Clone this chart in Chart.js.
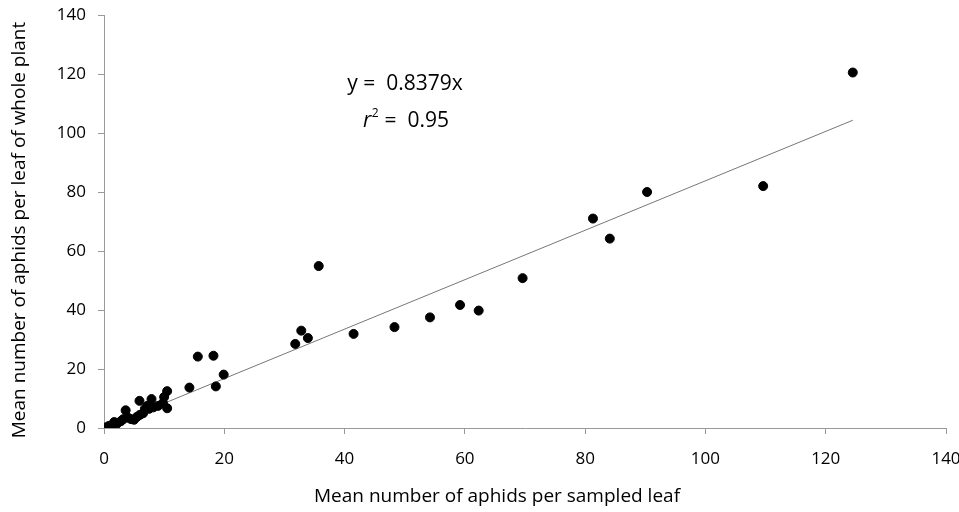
<!DOCTYPE html>
<html>
<head>
<meta charset="utf-8">
<script src="https://cdn.jsdelivr.net/npm/chart.js@4.4.1/dist/chart.umd.min.js"></script>
<style>
html,body{margin:0;padding:0;background:#fff;}
#wrap{width:959px;height:512px;position:relative;}
</style>
</head>
<body>
<div id="wrap"><canvas id="c" width="959" height="512"></canvas></div>
<script>
const sampledLeaf = [0.3,0.8,1.3,1.7,2.2,2.8,3.2,3.6,4.0,4.5,5.0,5.5,6.0,5.9,6.5,6.8,7.2,7.9,7.5,8.2,9.0,9.8,10.0,10.5,10.5,14.2,15.6,18.2,18.6,19.9,31.8,32.8,33.9,35.7,41.5,48.3,54.2,59.2,62.3,69.6,81.3,84.1,90.3,109.6,124.5];
const wholePlant  = [0.2,0.7,1.0,2.0,1.5,2.3,3.0,6.0,3.5,3.0,2.8,3.8,4.5,9.2,5.0,6.5,7.5,9.8,6.5,7.0,7.5,8.5,10.5,6.7,12.5,13.7,24.2,24.5,14.1,18.1,28.5,33.0,30.5,54.9,31.9,34.2,37.5,41.7,39.8,50.8,71.0,64.2,80.0,82.0,120.5];
const slope = 0.8379;
const lineX = [0, 124.5];
const xTicks = [0,20,40,60,80,100,120,140];
const yTicks = [0,20,40,60,80,100,120,140];
const xTitle = "Mean number of aphids per sampled leaf";
const yTitle = "Mean number of aphids per leaf of whole plant";

const points = sampledLeaf.map((x,i)=>({x:x,y:wholePlant[i]}));
const fitLine = lineX.map(x=>({x:x,y:slope*x}));
const FONT = "'Open Sans', 'Noto Sans', sans-serif";

const textPlugin = {
  id:'texts',
  afterDraw(chart){
    const ctx = chart.ctx;
    ctx.save();
    ctx.fillStyle = '#000';
    ctx.textBaseline = 'middle';
    ctx.textAlign = 'center';
    ctx.font = "19px " + FONT;
    ctx.fillText(xTitle, 497, 497);
    ctx.save();
    ctx.translate(20, 230);
    ctx.rotate(-Math.PI/2);
    ctx.fillText(yTitle, 0, 0);
    ctx.restore();
    // equation
    ctx.font = "21px " + FONT;
    ctx.fillText("y =  0.8379x", 405, 84);
    // r^2 line
    ctx.textAlign = 'left';
    ctx.font = "italic 21px " + FONT;
    let x0 = 363;
    ctx.fillText("r", x0, 121);
    let w = ctx.measureText("r").width;
    ctx.font = "12px " + FONT;
    ctx.fillText("2", x0 + w + 0.5, 114);
    let w2 = ctx.measureText("2").width;
    ctx.font = "21px " + FONT;
    ctx.fillText(" =  0.95", x0 + w + w2 + 1, 121);
    ctx.restore();
  }
};

new Chart(document.getElementById('c'), {
  type:'scatter',
  data:{
    datasets:[
      {label:'fit', type:'line', data:fitLine, borderColor:'#777', borderWidth:1, pointRadius:0, fill:false, order:2},
      {label:'obs', data:points, backgroundColor:'#000', borderColor:'#000', pointRadius:4.5, pointHoverRadius:4.5, order:1}
    ]
  },
  plugins:[textPlugin],
  options:{
    responsive:false,
    animation:false,
    events:[],
    layout:{padding:{top:15,right:13,left:0,bottom:0}},
    plugins:{legend:{display:false},tooltip:{enabled:false}},
    scales:{
      x:{
        type:'linear', min:0, max:140,
        afterFit(s){ s.height = 84; s.paddingLeft = 0; s.paddingRight = 0; },
        afterBuildTicks(s){ s.ticks = xTicks.map(v=>({value:v})); },
        grid:{drawOnChartArea:false, drawTicks:true, tickLength:6, color:'#999'},
        border:{color:'#999', width:1},
        ticks:{color:'#000', font:{family:FONT, size:17}, padding:15, maxRotation:0}
      },
      y:{
        type:'linear', min:0, max:140,
        afterFit(s){ s.width = 104; s.paddingTop = 0; s.paddingBottom = 0; },
        afterBuildTicks(s){ s.ticks = yTicks.map(v=>({value:v})); },
        grid:{drawOnChartArea:false, drawTicks:true, tickLength:6, color:'#999'},
        border:{color:'#999', width:1},
        ticks:{color:'#000', font:{family:FONT, size:17}, padding:12}
      }
    }
  }
});
</script>
</body>
</html>
